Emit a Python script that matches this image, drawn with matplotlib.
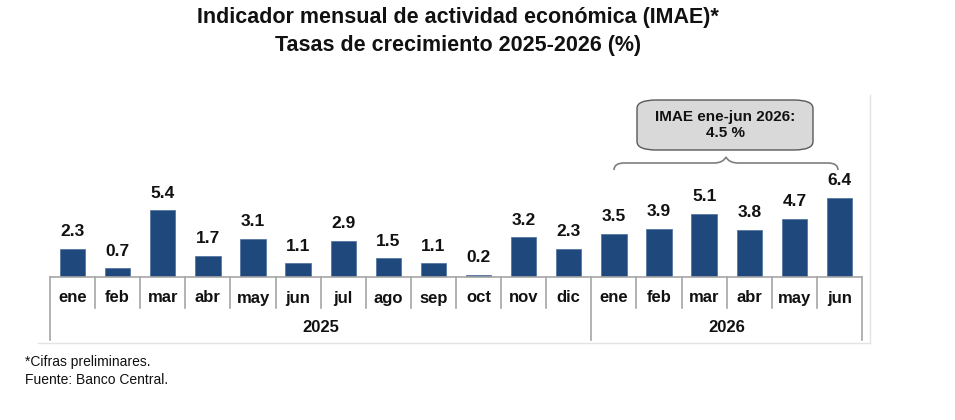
import matplotlib
matplotlib.use("Agg")
import matplotlib.pyplot as plt
from matplotlib.patches import FancyBboxPatch
from matplotlib.path import Path
from matplotlib.patches import PathPatch
from matplotlib.lines import Line2D

months = ["ene", "feb", "mar", "abr", "may", "jun", "jul", "ago", "sep", "oct", "nov", "dic",
          "ene", "feb", "mar", "abr", "may", "jun"]
values = [2.3, 0.7, 5.4, 1.7, 3.1, 1.1, 2.9, 1.5, 1.1, 0.2, 3.2, 2.3,
          3.5, 3.9, 5.1, 3.8, 4.7, 6.4]
years = ["2025", "2026"]
year_counts = [12, 6]
title_lines = ["Indicador mensual de actividad económica (IMAE)*",
               "Tasas de crecimiento 2025-2026 (%)"]
box_text = "IMAE ene-jun 2026:\n4.5 %"
notes = ["*Cifras preliminares.", "Fuente: Banco Central."]

plt.rcParams['font.family'] = ['Liberation Sans', 'DejaVu Sans']

W, H = 955, 420
fig = plt.figure(figsize=(W / 100, H / 100), dpi=100)

# axes position in pixels
x0, x1 = 50, 862
ybase, ytop = 277, 95
ax = fig.add_axes([x0 / W, (H - ybase) / H, (x1 - x0) / W, (ybase - ytop) / H])
axh = ybase - ytop
ymax = axh / 12.35
n = len(values)
xs = list(range(n))
ax.bar(xs, values, width=0.56, color="#1f497d", edgecolor="#4a6f9c", linewidth=0.5, zorder=2)
ax.set_xlim(-0.5, n - 0.5)
ax.set_ylim(0, ymax)
for s in ax.spines.values():
    s.set_visible(False)
ax.set_xticks([])
ax.set_yticks([])

for x, v in zip(xs, values):
    ax.annotate(f"{v:.1f}", (x, v), xytext=(0, 7), textcoords="offset points",
                ha="center", va="bottom", fontsize=12.5, fontweight="bold", color="#111111")

trans = ax.get_xaxis_transform()
sep_color = "#a6a6a6"
# baseline
ax.plot([-0.5, n - 0.5], [0, 0], transform=trans, color=sep_color, lw=1.2, clip_on=False, zorder=3)
month_bot = -(308 - ybase) / axh
year_bot = -(340 - ybase) / axh
month_y = -(298 - ybase) / axh
year_y = -(328 - ybase) / axh

year_edges = [-0.5]
for c in year_counts:
    year_edges.append(year_edges[-1] + c)
for i in range(n + 1):
    xe = i - 0.5
    bot = year_bot if xe in year_edges else month_bot
    ax.plot([xe, xe], [0, bot], transform=trans, color=sep_color, lw=1.2, clip_on=False)
for x, m in zip(xs, months):
    ax.text(x, month_y, m, transform=trans, ha="center", va="center",
            fontsize=12, fontweight="bold", color="#111111")
for i, y in enumerate(years):
    cx = (year_edges[i] + year_edges[i + 1]) / 2
    ax.text(cx, year_y, y, transform=trans, ha="center", va="center",
            fontsize=12, fontweight="bold", color="#111111")

# chart frame (right and bottom light lines)
fig.add_artist(Line2D([870 / W, 870 / W], [(H - 95) / H, (H - 343) / H], color="#e3e3e3", lw=1))
fig.add_artist(Line2D([38 / W, 870 / W], [(H - 343) / H, (H - 343) / H], color="#e3e3e3", lw=1))

# title
fig.text(458 / W, (H - 18) / H, title_lines[0], ha="center", va="center",
         fontsize=15.5, fontweight="bold", color="#111111")
fig.text(458 / W, (H - 45) / H, title_lines[1], ha="center", va="center",
         fontsize=15.5, fontweight="bold", color="#111111")

# annotation box
bx0, bx1, by0, by1 = 637, 813, 100, 150
box = FancyBboxPatch((bx0 / W, (H - by1) / H), (bx1 - bx0) / W, (by1 - by0) / H,
                     boxstyle="round,pad=0,rounding_size=0.02", transform=fig.transFigure,
                     facecolor="#d9d9d9", edgecolor="#595959", lw=1)
fig.add_artist(box)
fig.text(725 / W, (H - 125) / H, box_text, ha="center", va="center", fontsize=11,
         fontweight="bold", color="#111111", linespacing=1.15)

# curly brace
def P(px, py):
    return (px / W, (H - py) / H)
L, R, M = 614, 838, 726
yb, yp = 170, 157
ym = 163
verts = [P(L, yb), P(L, ym), P(L + 10, ym), P(L + 20, ym),
         P(M - 12, ym), P(M - 3, ym), P(M, yp),
         P(M + 3, ym), P(M + 12, ym),
         P(R - 20, ym), P(R - 10, ym), P(R, ym), P(R, yb)]
codes = [Path.MOVETO, Path.CURVE3, Path.CURVE3, Path.LINETO,
         Path.LINETO, Path.CURVE3, Path.CURVE3,
         Path.CURVE3, Path.CURVE3,
         Path.LINETO, Path.LINETO, Path.CURVE3, Path.CURVE3]
fig.add_artist(PathPatch(Path(verts, codes), transform=fig.transFigure,
                         facecolor="none", edgecolor="#7f7f7f", lw=1.2))

fig.text(25 / W, (H - 362) / H, notes[0], ha="left", va="center", fontsize=10, color="#111111")
fig.text(25 / W, (H - 380) / H, notes[1], ha="left", va="center", fontsize=10, color="#111111")

fig.savefig("out.png", dpi=100)
